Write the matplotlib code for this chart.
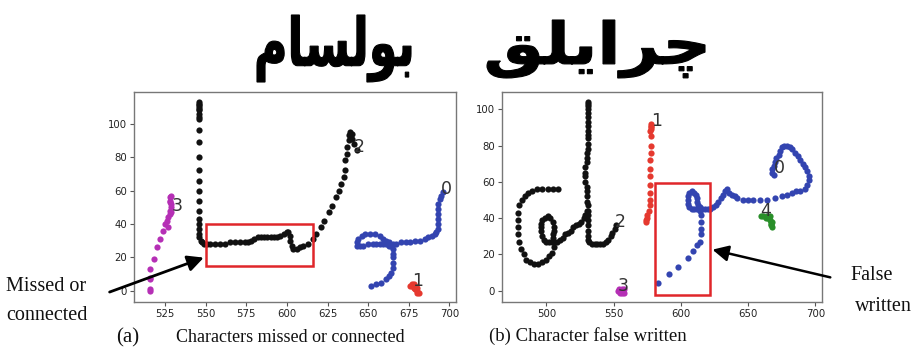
import numpy as np
import matplotlib
matplotlib.use("Agg")
import matplotlib.pyplot as plt
from matplotlib.patches import Rectangle, PathPatch
from matplotlib.textpath import TextPath
from matplotlib.font_manager import FontProperties
from matplotlib.transforms import Affine2D

W, H = 916, 353

# ---------- (a) strokes : characters missed or connected ----------
a_s2_x = [546, 546, 546, 546, 546, 546, 546, 546, 546, 546, 546, 546, 546, 546, 546, 546, 546, 546, 546, 546, 546, 546, 547,
          548, 549, 551, 553, 556, 559, 562, 565, 568, 571, 574, 576, 578, 580, 582, 584, 586, 588, 590, 592, 594, 596,
          598, 600, 601, 602, 602, 603, 604, 606, 608, 610, 613, 616, 618, 621, 623, 626, 628, 630, 632, 633, 635, 636,
          636, 637, 637, 638, 638, 639, 640, 640, 641, 643]
a_s2_y = [113, 112, 111, 110, 109, 108, 106, 104, 103, 96, 89, 80, 72, 66, 60, 54, 48, 43, 40, 37, 34, 32, 30,
          29, 28, 28, 28, 28, 28, 28, 29, 29, 29, 29, 29, 30, 31, 32, 32, 32, 32, 32, 32, 32, 33,
          34, 35, 35, 33, 30, 27, 25, 25, 26, 27, 28, 31, 34, 38, 42, 47, 51, 56, 60, 64, 68, 72,
          78, 82, 86, 90, 93, 95, 94, 91, 88, 84]
a_s0_x = [696, 695, 694, 693, 693, 693, 693, 693, 693, 692, 691, 689, 687, 685, 682, 679, 676, 673, 670, 667, 665,
          663, 661, 659, 657, 655, 653, 650, 647, 645, 643, 643, 644, 646, 648, 651, 654, 657, 659, 661, 663, 664,
          665, 665, 665, 665, 665, 664, 663, 661, 658, 655, 652]
a_s0_y = [59, 57, 55, 52, 49, 46, 43, 40, 37, 35, 34, 33, 32, 31, 30, 30, 29, 29, 29, 28, 28,
          27, 28, 28, 28, 28, 28, 28, 27, 27, 27, 29, 31, 33, 34, 34, 34, 33, 31, 30, 29, 27,
          25, 22, 20, 17, 14, 11, 9, 7, 5, 4, 3]
a_s1_x = [676, 677, 678, 678, 679, 679, 680, 680, 681, 680, 677]
a_s1_y = [3, 4, 4, 2, 3, 1, 2, 0, -1, -1, 3]
a_s3_x = [516, 516, 516, 516, 516, 518, 520, 522, 524, 525, 526, 527, 528, 528, 529, 529, 528, 528, 529, 528, 529, 527]
a_s3_y = [0, 1, 7, 8, 13, 19, 26, 31, 36, 40, 42, 44, 46, 48, 50, 52, 54, 56, 57, 53, 47, 38]

# ---------- (b) strokes : character false written ----------
b_s2_x = [531, 531, 531, 531, 531, 531, 531, 531, 531, 531, 531, 531, 531, 530, 530, 530, 529, 529, 529, 529, 530,
          530, 530, 530, 531, 531, 531, 531, 531, 531, 531, 531,
          532, 534, 536, 538, 540, 542, 544, 546, 548, 549, 551, 552,
          509, 505, 501, 497, 493, 489, 486, 484, 482, 480, 479, 479, 479, 479, 480, 481, 483,
          485, 488, 491, 494, 497, 500, 502, 504, 506,
          506, 505, 505, 506, 506, 505, 503, 501, 499, 497, 496, 496, 496, 497, 498, 500, 502, 504,
          508, 510, 512, 514, 516, 518, 520, 522, 524, 526, 528, 529, 530]
b_s2_y = [104, 103, 102, 100, 98, 96, 93, 91, 88, 86, 84, 81, 78, 76, 73, 71, 68, 65, 63, 60, 57,
          55, 52, 49, 47, 44, 42, 39, 36, 33, 30, 28,
          27, 26, 26, 26, 26, 26, 27, 28, 30, 32, 34, 36,
          56, 56, 56, 56, 56, 55, 54, 52, 50, 47, 43, 39, 35, 31, 27, 23, 20,
          17, 16, 15, 15, 16, 17, 19, 21, 24,
          27, 29, 31, 33, 35, 38, 40, 41, 40, 39, 37, 35, 33, 30, 28, 27, 27, 27,
          27, 28, 29, 31, 32, 33, 35, 36, 37, 38, 40, 42, 44]
b_s1_x = [578, 578, 578, 578, 577, 578, 578, 578, 577, 577, 577, 577, 577, 577, 577, 576, 575, 575, 574, 574]
b_s1_y = [92, 91, 90, 89, 88, 85, 80, 76, 72, 67, 63, 58, 54, 50, 47, 44, 42, 40, 39, 38]
b_s3_x = [553, 554, 555, 556, 557, 558, 558, 555, 554, 556]
b_s3_y = [0, 1, 0, -1, 0, 1, -1, -1, 0, 1]
b_s4_x = [660, 661, 663, 664, 665, 666, 667, 667, 667, 668, 668, 666]
b_s4_y = [41, 41, 40, 41, 40, 39, 38, 37, 36, 35, 38, 41]
b_s0_x = [583, 591, 598, 605, 609, 612, 614, 615, 615, 615, 615, 614, 612, 610, 608, 606, 605, 605, 605, 606, 608,
          610, 611, 612, 612, 613, 614, 616, 618, 620, 622, 624, 626, 628, 630, 631, 633, 634, 636, 638, 640, 642,
          646, 650, 654, 659, 664, 670, 675, 679, 683, 686, 689, 692, 694, 695, 695, 694, 692, 691, 689, 687, 685,
          683, 681, 679, 677, 675, 674, 673, 671, 670, 669, 668, 668, 669]
b_s0_y = [4, 9, 13, 18, 22, 25, 27, 31, 34, 38, 42, 44, 45, 45, 45, 46, 48, 50, 52, 54, 55,
          54, 53, 51, 49, 47, 46, 45, 45, 45, 45, 46, 47, 49, 51, 53, 55, 56, 54, 53, 52, 51,
          50, 50, 50, 50, 50, 51, 52, 53, 54, 55, 55, 56, 58, 61, 63, 66, 68, 70, 72, 74, 76,
          78, 79, 80, 80, 79, 77, 75, 73, 71, 69, 67, 65, 64]

a_labels = [("0", 695, 58), ("1", 677, 3), ("2", 641, 83), ("3", 529, 48)]
b_labels = [("0", 669, 65), ("1", 578, 91), ("2", 551, 35), ("3", 553, 0), ("4", 659, 41)]

# Urdu words, pre-shaped presentation forms in visual (left to right) order
word1 = "\uFEE1\uFE8E\uFEB4\uFEDF\uFEEE\uFE91"   # بولسام
word2 = "\uFED6\uFEE0\uFBFE\uFE8D\uFEAE\uFB7C"   # چرایلق

BLUE = "#3344b0"
RED = "#e5392f"
MAG = "#b52fb5"
GRN = "#2a8f2a"
BLK = "#111111"

fig = plt.figure(figsize=(W / 100, H / 100), dpi=100)
fig.patch.set_facecolor("white")

def make_axes(px_left, px_right, px_top, px_bot):
    return fig.add_axes([px_left / W, 1 - px_bot / H, (px_right - px_left) / W, (px_bot - px_top) / H])

ax1 = make_axes(134, 456, 92, 302)
ax2 = make_axes(502, 822, 92, 302)

ms = 20
ax1.scatter(a_s2_x, a_s2_y, s=ms, c=BLK, linewidths=0)
ax1.scatter(a_s0_x, a_s0_y, s=ms, c=BLUE, linewidths=0)
ax1.scatter(a_s1_x, a_s1_y, s=ms, c=RED, linewidths=0)
ax1.scatter(a_s3_x, a_s3_y, s=ms, c=MAG, linewidths=0)

ax2.scatter(b_s2_x, b_s2_y, s=ms, c=BLK, linewidths=0)
ax2.scatter(b_s0_x, b_s0_y, s=ms, c=BLUE, linewidths=0)
ax2.scatter(b_s1_x, b_s1_y, s=ms, c=RED, linewidths=0)
ax2.scatter(b_s3_x, b_s3_y, s=ms, c=MAG, linewidths=0)
ax2.scatter(b_s4_x, b_s4_y, s=ms, c=GRN, linewidths=0)

for t, x, y in a_labels:
    ax1.text(x, y, t, fontsize=12.5, color="#333333")
for t, x, y in b_labels:
    ax2.text(x, y, t, fontsize=12.5, color="#333333")

ax1.set_xlim(506, 704)
ax1.set_ylim(-6.6, 118.9)
ax1.set_xticks(np.arange(525, 701, 25))
ax2.set_xlim(467, 705)
ax2.set_ylim(-6.2, 109.5)
ax2.set_xticks(np.arange(500, 701, 50))
for ax in (ax1, ax2):
    ax.set_yticks(np.arange(0, 101, 20))
    ax.tick_params(labelsize=7.3, length=3, width=0.8, color="#555555", labelcolor="#222222", pad=2)
    for sp in ax.spines.values():
        sp.set_color("#777777")
        sp.set_linewidth(1.0)

# red boxes
ax1.add_patch(Rectangle((550, 15), 66, 25, fill=False, ec="#e0262a", lw=1.8, zorder=5))
ax2.add_patch(Rectangle((581, -2.4), 41, 61.6, fill=False, ec="#e0262a", lw=1.8, zorder=5))

# arrows
ax1.annotate("", xy=(550.5, 20.5), xycoords="data", xytext=(107 / W, 1 - 293 / H), textcoords="figure fraction",
             arrowprops=dict(arrowstyle="-|>", lw=2, color="black", mutation_scale=24), annotation_clip=False)
ax2.annotate("", xy=(621.5, 23), xycoords="data", xytext=(833 / W, 1 - 278 / H), textcoords="figure fraction",
             arrowprops=dict(arrowstyle="-|>", lw=1.8, color="black", mutation_scale=24), annotation_clip=False)

serif = ["Liberation Serif", "DejaVu Serif"]
fig.text(6 / W, 1 - 291 / H, "Missed or", fontsize=14.5, family=serif, color="#111111")
fig.text(6 / W, 1 - 320 / H, "connected", fontsize=14.5, family=serif, color="#111111")
fig.text(850 / W, 1 - 280 / H, "False", fontsize=14.5, family=serif, color="#111111")
fig.text(855 / W, 1 - 311 / H, "written", fontsize=14.5, family=serif, color="#111111")

fig.text(116 / W, 1 - 342 / H, "(a)", fontsize=15, family=serif, color="#111111")
fig.text(176 / W, 1 - 342 / H, "Characters missed or connected", fontsize=13, family=serif, color="#111111")
fig.text(489 / W, 1 - 341 / H, "(b) Character false written", fontsize=13.5, family=serif, color="#111111")

# draw the words as paths stretched into the boxes they fill in the picture
def word_box(s, left, right, top, bot):
    tp = TextPath((0, 0), s, size=100, prop=FontProperties(family="DejaVu Sans", weight="bold"))
    bb = tp.get_extents()
    tr = (Affine2D().translate(-bb.x0, -bb.y0)
          .scale((right - left) / bb.width / W, (bot - top) / bb.height / H)
          .translate(left / W, 1 - bot / H)) + fig.transFigure
    fig.add_artist(PathPatch(tp, transform=tr, fc="black", ec="black", lw=0.8))

word_box(word1, 257, 411, 15, 82)
word_box(word2, 487, 705, 20, 78)

fig.savefig("out.png", dpi=100)
